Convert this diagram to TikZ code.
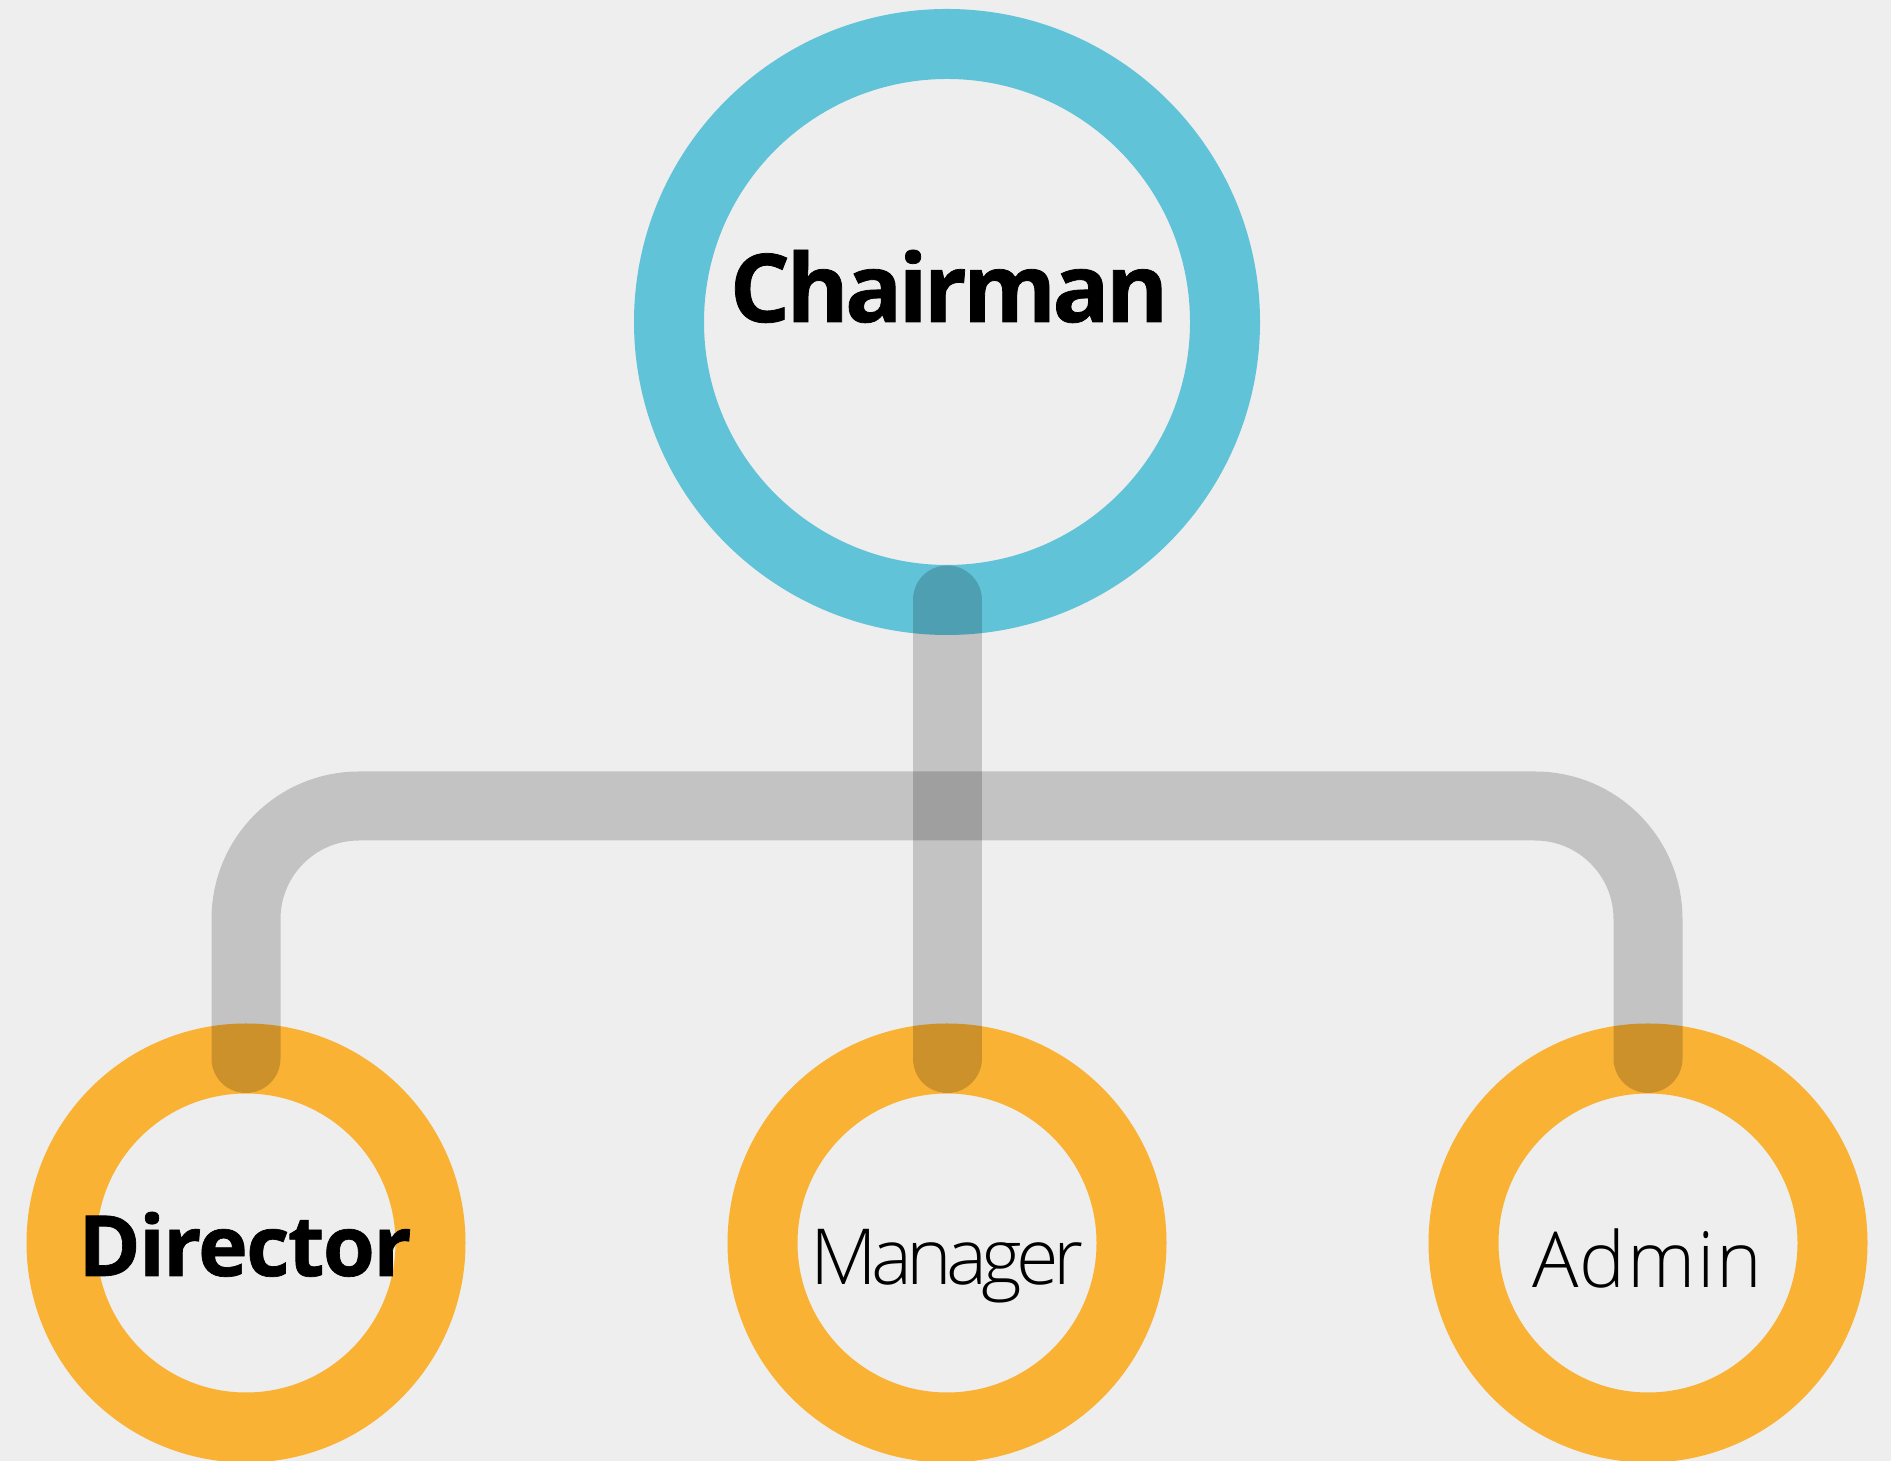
\documentclass[tikz,border=0pt]{standalone}
\usepackage{fontspec}
\setmainfont{Open Sans}[BoldFeatures={FakeBold=0.8}]
\newfontfamily\lightfont{Open Sans Light}
\usepackage{tikz}

\definecolor{chairblue}{RGB}{96,195,216}
\definecolor{staffgold}{RGB}{249,178,52}
\definecolor{paper}{RGB}{238,238,238}

\begin{document}
\begin{tikzpicture}[
	ring/.style={circle, draw=#1, line width=0.7cm, inner sep=0pt, outer sep=0pt},
	link/.style={draw=black, draw opacity=0.18, line width=0.69cm, line cap=round},
	boldlbl/.style={anchor=base, font=\bfseries\fontsize{#1}{#1}\selectfont},
	thinlbl/.style={anchor=base, font=\lightfont\fontsize{22}{22}\selectfont}
	]
	%\draw[help lines, thick] (0,0) grid (19,15);
	\useasboundingbox (0,0) rectangle (18.91,14.61);
	\fill[paper] (0,0) rectangle (18.91,14.61);
	\node[ring=chairblue, minimum size=5.56cm] (chairman) at (9.47,11.39) {};
	\node[ring=staffgold, minimum size=3.69cm] (director) at (2.46,2.18) {};
	\node[ring=staffgold, minimum size=3.69cm] (manager) at (9.47,2.18) {};
	\node[ring=staffgold, minimum size=3.69cm] (admin) at (16.48,2.18) {};
	\coordinate (bus) at (9.47,6.55);
	\draw[link] (chairman.south) -- (manager.north);
	\draw[link, rounded corners=1.13cm] (director.north) |- (bus) -| (admin.north);
	\node[boldlbl=27] (chairmantxt) at ([xshift=0.02cm]chairman.center) {\addfontfeatures{LetterSpace=-4}Chairman};
	\node[boldlbl=24] (directortxt) at ([xshift=-0.01cm, yshift=-0.33cm]director.center) {\addfontfeatures{LetterSpace=-2}Director};
	\node[thinlbl] (managertxt) at ([xshift=0.0cm, yshift=-0.42cm]manager.center) {\addfontfeatures{LetterSpace=-7.5}Manager};
	\node[thinlbl] (admintxt) at ([xshift=-0.01cm, yshift=-0.45cm]admin.center) {\addfontfeatures{LetterSpace=2}Admin};
\end{tikzpicture}
\end{document}
